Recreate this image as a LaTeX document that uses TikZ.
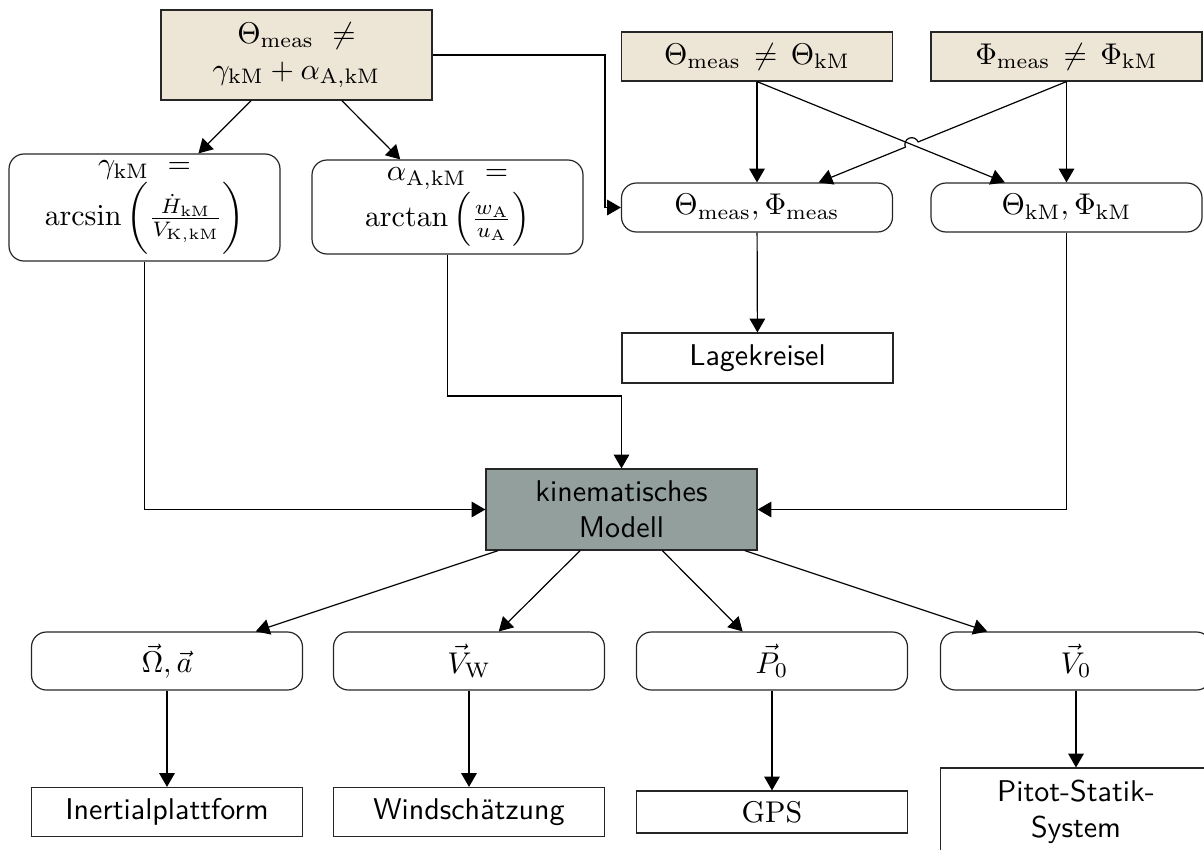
\documentclass[tikz,border=0pt]{standalone}
\usetikzlibrary{arrows.meta,calc,intersections}
\definecolor{tanfill}{RGB}{237,229,213}
\definecolor{modelfill}{RGB}{146,159,156}
\begin{document}
\begin{tikzpicture}[x=0.33333pt,y=-0.33333pt,
  box/.style={draw=black!85, line width=0.4pt, inner sep=1pt, align=center, minimum width=90.33pt},
  tanbox/.style={box, fill=tanfill},
  rbox/.style={box, rounded corners=5pt},
  leaf/.style={box, font=\sffamily},
  arr/.style={draw=black, line width=0.4pt, -{Triangle[length=4.6pt,width=5.2pt]}},
]
\useasboundingbox (0,0) rectangle (1204,849);
\clip (0,0) rectangle (1204,849);

% measured and model attitude
\node[tanbox, minimum height=30pt] (tl) at (296.5,55)
  {$\Theta_{\mathrm{meas}}\ \neq$\\$\gamma_{\mathrm{kM}}+\alpha_{\mathrm{A,kM}}$};
\node[tanbox, minimum height=16.33pt] (tb2) at (757,56.5)
  {$\Theta_{\mathrm{meas}}\,\neq\,\Theta_{\mathrm{kM}}$};
\node[tanbox, minimum height=16.33pt] (tb3) at (1066.5,56.5)
  {$\Phi_{\mathrm{meas}}\,\neq\,\Phi_{\mathrm{kM}}$};

\node[rbox, minimum height=35.67pt] (gam) at (144.5,207.5)
  {$\gamma_{\mathrm{kM}}\ =$\\$\arcsin\,\biggl(\frac{\dot{H}_{\mathrm{kM}}}{V_{\mathrm{K,kM}}}\biggr)$};
\node[rbox, minimum height=31.33pt] (alp) at (447.5,207)
  {$\alpha_{\mathrm{A,kM}}\ =$\\$\arctan\left(\frac{w_{\mathrm{A}}}{u_{\mathrm{A}}}\right)$};
\node[rbox, minimum height=16.33pt] (mm) at (757,207.5)
  {$\Theta_{\mathrm{meas}},\Phi_{\mathrm{meas}}$};
\node[rbox, minimum height=16.33pt] (kM) at (1066.5,207.5)
  {$\Theta_{\mathrm{kM}},\Phi_{\mathrm{kM}}$};

\node[leaf, minimum height=16.67pt] (lage) at (757.5,358) {Lagekreisel};
\node[leaf, fill=modelfill, minimum height=27pt] (km) at (621.5,509.5) {kinematisches\\Modell};

% quantities delivered by the model
\node[rbox, minimum height=19.33pt] (b1) at (167,661) {$\vec{\Omega},\vec{a}$};
\node[rbox, minimum height=19.33pt] (b2) at (469,661) {$\vec{V}_{\mathrm{W}}$};
\node[rbox, minimum height=19.33pt] (b3) at (772,661) {$\vec{P}_0$};
\node[rbox, minimum height=19.33pt] (b4) at (1076,661) {$\vec{V}_0$};

% sensors
\node[leaf, minimum height=16.33pt] (l1) at (167,812) {Inertialplattform};
\node[leaf, minimum height=16.33pt] (l2) at (469,812) {Windschätzung};
\node[box, minimum height=14pt] (l3) at (772,812) {GPS};
\node[leaf, minimum height=29.3pt] (l4) at (1076,812) {Pitot-Statik-\\System};

% connectors
\draw[arr] (tl) -- (gam);
\draw[arr] (tl) -- (alp);
\coordinate (fb) at (605,207.5);
\draw[arr] (tl.east) -| (fb) -- (mm.west);

\draw[arr] (tb2) -- (mm);
\draw[arr] (tb3) -- (kM);
\draw[arr, name path=crossA] (tb2.south) -- (kM);
\path[name path=crossB] (tb3.south) -- (mm);
\path[name intersections={of=crossA and crossB, by=X}];
\draw[arr] let \p1=($(tb3.south)-(X)$), \n1={atan2(\y1,\x1)} in
  (tb3.south) -- ($(X)!2.3pt!(tb3.south)$)
  arc[start angle=\n1, end angle=\n1+180, radius=2.3pt] -- (mm);

\draw[arr] (mm) -- (lage);
\coordinate (ak) at (447.5,396);
\draw[arr] (alp.south) -- (ak) -| (km.north);
\draw[arr] (gam.south) |- (km.west);
\draw[arr] (kM.south) |- (km.east);

\draw[arr] (km) -- (b1);
\draw[arr] (km) -- (b2);
\draw[arr] (km) -- (b3);
\draw[arr] (km) -- (b4);

\draw[arr] (b1) -- (l1);
\draw[arr] (b2) -- (l2);
\draw[arr] (b3) -- (l3);
\draw[arr] (b4) -- (l4);
\end{tikzpicture}
\end{document}
